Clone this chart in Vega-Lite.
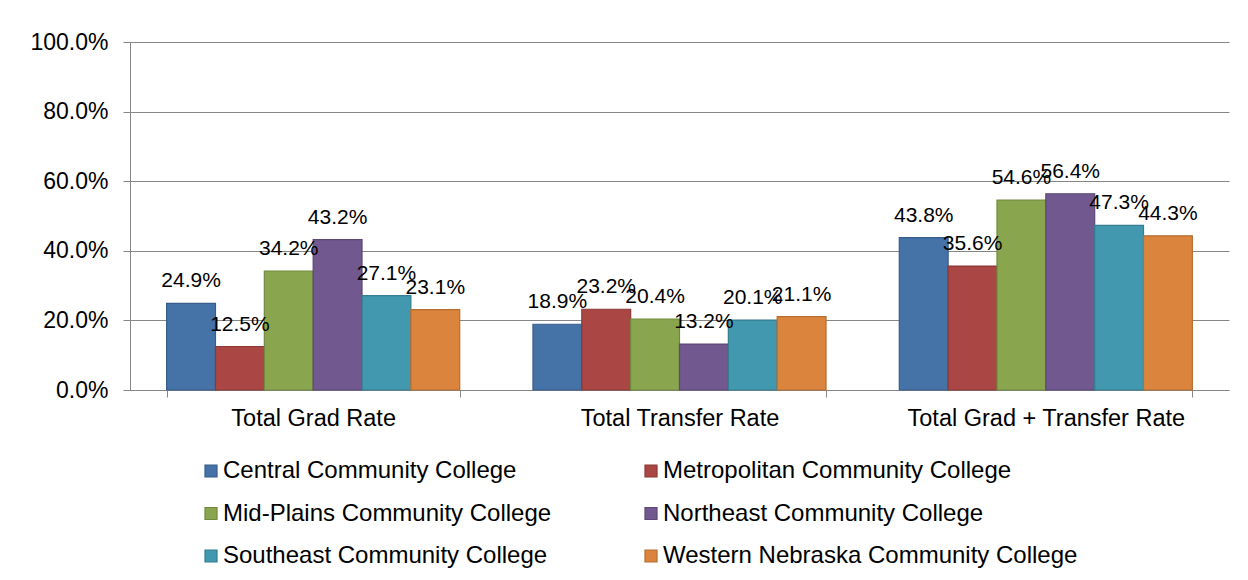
{
  "$schema": "https://vega.github.io/schema/vega-lite/v6.json",
  "width": 1099,
  "height": 348,
  "autosize": "none",
  "padding": {"left": 130, "top": 42, "right": 19, "bottom": 190},
  "background": "white",
  "config": {
    "font": "Liberation Sans",
    "view": {"stroke": null},
    "axis": {"labelFont": "Liberation Sans", "labelColor": "#000000", "domainColor": "#868686", "tickColor": "#868686", "gridColor": "#868686", "gridWidth": 1, "domainWidth": 1, "tickWidth": 1}
  },
  "data": {
    "values": [
      {"measure": "Total Grad Rate", "college": "Central Community College", "value": 0.249},
      {"measure": "Total Grad Rate", "college": "Metropolitan Community College", "value": 0.125},
      {"measure": "Total Grad Rate", "college": "Mid-Plains Community College", "value": 0.342},
      {"measure": "Total Grad Rate", "college": "Northeast Community College", "value": 0.432},
      {"measure": "Total Grad Rate", "college": "Southeast Community College", "value": 0.271},
      {"measure": "Total Grad Rate", "college": "Western Nebraska Community College", "value": 0.231},
      {"measure": "Total Transfer Rate", "college": "Central Community College", "value": 0.189},
      {"measure": "Total Transfer Rate", "college": "Metropolitan Community College", "value": 0.232},
      {"measure": "Total Transfer Rate", "college": "Mid-Plains Community College", "value": 0.204},
      {"measure": "Total Transfer Rate", "college": "Northeast Community College", "value": 0.132},
      {"measure": "Total Transfer Rate", "college": "Southeast Community College", "value": 0.201},
      {"measure": "Total Transfer Rate", "college": "Western Nebraska Community College", "value": 0.211},
      {"measure": "Total Grad + Transfer Rate", "college": "Central Community College", "value": 0.438},
      {"measure": "Total Grad + Transfer Rate", "college": "Metropolitan Community College", "value": 0.356},
      {"measure": "Total Grad + Transfer Rate", "college": "Mid-Plains Community College", "value": 0.546},
      {"measure": "Total Grad + Transfer Rate", "college": "Northeast Community College", "value": 0.564},
      {"measure": "Total Grad + Transfer Rate", "college": "Southeast Community College", "value": 0.473},
      {"measure": "Total Grad + Transfer Rate", "college": "Western Nebraska Community College", "value": 0.443}
    ]
  },
  "encoding": {
    "x": {
      "field": "measure", "type": "nominal", "sort": null,
      "scale": {"paddingInner": 0.2, "paddingOuter": 0.1},
      "axis": {"title": null, "labelAngle": 0, "labelFontSize": 23.5, "labelLimit": 0, "tickBand": "extent", "tickSize": 7, "labelPadding": 9, "grid": false}
    },
    "xOffset": {
      "field": "college", "type": "nominal", "sort": null,
      "scale": {"paddingInner": 0, "paddingOuter": 0}
    },
    "y": {
      "field": "value", "type": "quantitative",
      "scale": {"domain": [0, 1], "nice": false},
      "axis": {"title": null, "format": ".1%", "values": [0, 0.2, 0.4, 0.6, 0.8, 1], "labelFontSize": 23, "tickSize": 7, "labelPadding": 15, "grid": true}
    }
  },
  "layer": [
    {
      "mark": {"type": "bar", "strokeWidth": 1.2},
      "encoding": {
        "color": {
          "field": "college", "type": "nominal", "sort": null,
          "scale": {"range": ["#4572A7", "#AA4643", "#89A54E", "#71588F", "#4198AF", "#DB843D"]},
          "legend": {
            "title": null, "orient": "none", "legendX": 69, "legendY": 417, "columns": 2,
            "direction": "horizontal",
            "columnPadding": 87, "rowPadding": 18.5, "padding": 0,
            "labelFont": "Liberation Sans", "labelFontSize": 24, "labelColor": "#000000", "labelLimit": 600,
            "labelOffset": 0, "symbolType": "square", "symbolSize": 144, "symbolStrokeWidth": 1.2
          }
        },
        "stroke": {
          "field": "college", "type": "nominal", "sort": null,
          "scale": {"range": ["#385D8A", "#8C3836", "#71893F", "#5C4776", "#357D91", "#B66D31"]}
        }
      }
    },
    {
      "mark": {"type": "text", "baseline": "middle", "align": "center", "dy": -22, "fontSize": 21, "font": "Liberation Sans", "color": "#000000"},
      "encoding": {
        "text": {"field": "value", "type": "quantitative", "format": ".1%"}
      }
    }
  ]
}
